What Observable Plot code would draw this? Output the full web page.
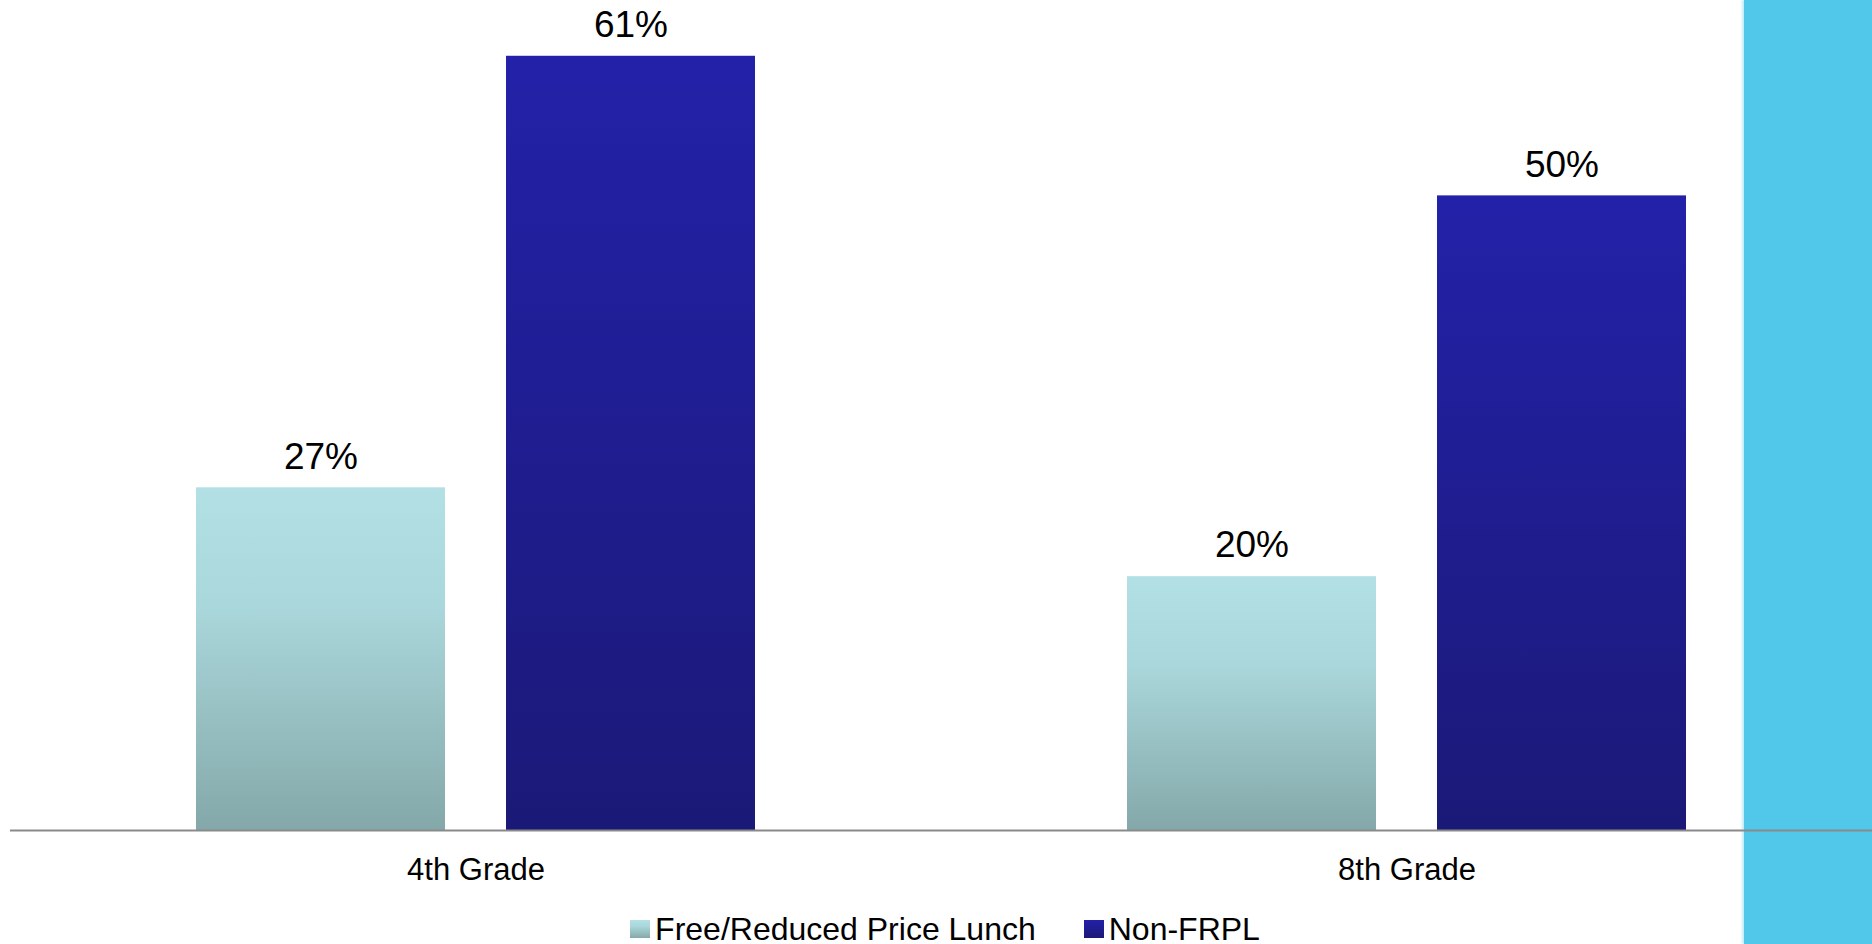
<!DOCTYPE html>
<html>
<head>
<meta charset="utf-8">
<script src="https://cdn.jsdelivr.net/npm/d3@7"></script>
<script src="https://cdn.jsdelivr.net/npm/@observablehq/plot@0.6"></script>
<style>
  html, body { margin: 0; padding: 0; background: #fff; width: 1872px; height: 944px; overflow: hidden; }
  body { position: relative; font-family: "Liberation Sans", Arial, sans-serif; }
  #strip { position: absolute; left: 1744px; top: 0; width: 128px; height: 944px; background: #51c8ea; z-index: 0;
           box-shadow: -2px 0 2px rgba(81,200,234,0.35); }
  #chart { position: relative; z-index: 1; }
  #chart svg { background: transparent !important; display: block; }
  #legend { position: relative; z-index: 1; width: 1890px; height: 36px; margin-top: 5px; display: flex; justify-content: center; align-items: center;
            font-size: 32px; color: #000; }
  .item { display: flex; align-items: center; margin: 0 24px; }
  .sw { width: 20px; height: 18px; margin-right: 5px; }
</style>
</head>
<body>
<div id="strip"></div>
<div id="chart"></div>
<div id="legend"></div>
<script>
const grades = ["4th Grade", "8th Grade"];
const series = ["Free/Reduced Price Lunch", "Non-FRPL"];
const frplValues = [27, 20];
const nonFrplValues = [61, 50];

const seriesGradients = [
  [["0%", "#b2e0e5"], ["35%", "#aad7db"], ["100%", "#84a8a9"]],
  [["0%", "#2321a8"], ["100%", "#1b1977"]]
];

const data = [];
grades.forEach((g, i) => {
  data.push({grade: g, series: series[0], value: frplValues[i]});
  data.push({grade: g, series: series[1], value: nonFrplValues[i]});
});

const plot = Plot.plot({
  width: 1872,
  height: 906,
  marginLeft: 10,
  marginRight: 0,
  marginTop: 5,
  marginBottom: 76,
  style: {fontFamily: "'Liberation Sans', Arial, sans-serif", background: "transparent", color: "#000"},
  fx: {domain: grades, paddingInner: 0, paddingOuter: 0, label: null},
  x: {domain: series, paddingInner: 0.197, paddingOuter: 0.6, axis: null},
  y: {domain: [0, 65], axis: null},
  color: {domain: series, range: ["url(#grad0)", "url(#grad1)"]},
  marks: [
    Plot.barY(data, {fx: "grade", x: "series", y: "value", fill: "series",
      style: "filter: drop-shadow(1px 1px 2px rgba(0,0,0,0.22))"}),
    Plot.text(data, {fx: "grade", x: "series", y: "value", text: d => d.value + "%",
      dy: -31, fontSize: 37, fill: "#000"}),
    Plot.ruleY([0], {stroke: "#8a8a8a", strokeWidth: 2}),
    Plot.axisFx({anchor: "bottom", tickSize: 0, tickPadding: 27, fontSize: 31, label: null, fill: "#000"})
  ]
});

const svg = d3.select(plot.tagName.toLowerCase() === "svg" ? plot : plot.querySelector("svg"));
const defs = svg.insert("defs", ":first-child");
seriesGradients.forEach((stops, i) => {
  const lg = defs.append("linearGradient").attr("id", "grad" + i)
    .attr("x1", 0).attr("y1", 0).attr("x2", 0).attr("y2", 1);
  stops.forEach(([o, c]) => lg.append("stop").attr("offset", o).attr("stop-color", c));
});

document.getElementById("chart").appendChild(plot);

const legend = d3.select("#legend");
series.forEach((s, i) => {
  const it = legend.append("div").attr("class", "item");
  const st = seriesGradients[i].map(([o, c]) => c + " " + o).join(", ");
  it.append("div").attr("class", "sw").style("background", "linear-gradient(to bottom, " + st + ")");
  it.append("span").text(s);
});
</script>
</body>
</html>
